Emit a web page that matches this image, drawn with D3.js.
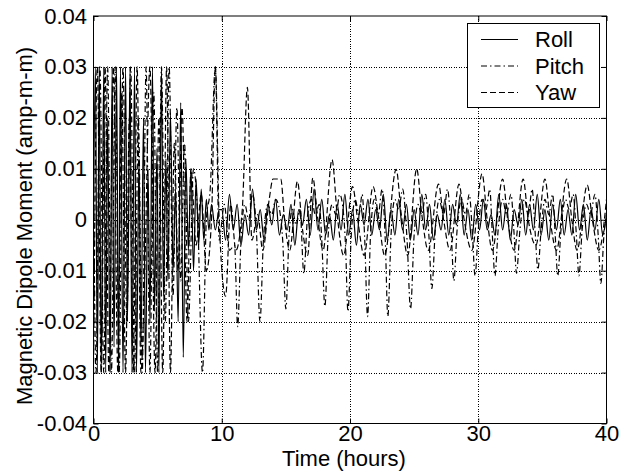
<!DOCTYPE html>
<html><head><meta charset="utf-8">
<script src="https://cdn.jsdelivr.net/npm/d3@7"></script>
<style>
html,body{margin:0;padding:0;background:#fff;}
text{font-family:"Liberation Sans",Arial,sans-serif;fill:#000;}
</style></head>
<body>
<svg id="chart" width="629" height="476"></svg>
<script>
// ---- data ----
const xTicks = [0, 10, 20, 30, 40];
const yTicks = [-0.04, -0.03, -0.02, -0.01, 0, 0.01, 0.02, 0.03, 0.04];
const yTickLabels = ["-0.04", "-0.03", "-0.02", "-0.01", "0", "0.01", "0.02", "0.03", "0.04"];
const seriesNames = ["Roll", "Pitch", "Yaw"];

const rollTime = [0,0.15,0.3,0.45,0.6,0.8,0.95,1.1,1.3,1.45,1.6,1.8,1.95,2.1,2.3,2.5,2.65,2.85,3.0,3.2,3.35,3.55,3.7,3.9,4.05,4.25,4.4,4.6,4.75,4.95,5.1,5.3,5.45,5.65,5.8,6.0,6.2,6.4,6.6,6.8,7.0,7.2,7.4,7.6,7.8,8.0,8.2,8.4,8.6,8.8,9.0,9.2,9.5,9.8,
10.0,10.3,10.6,10.9,11.2,11.5,11.8,12.1,12.4,12.7,13.0,13.3,13.6,13.9,14.2,14.5,14.8,15.1,15.4,15.7,16.0,16.3,16.6,16.9,17.2,17.5,17.8,18.1,18.4,18.7,19.0,19.3,19.6,19.9,20.2,20.5,20.8,21.1,21.4,21.7,22.0,22.3,22.6,22.9,23.2,23.5,23.8,24.1,24.4,24.7,25.0,25.3,25.6,25.9,26.2,26.5,26.8,27.1,27.4,27.7,28.0,28.3,28.6,28.9,29.2,29.5,29.8,30.1,30.4,30.7,31.0,31.3,31.6,31.9,32.2,32.5,32.8,33.1,33.4,33.7,34.0,34.3,34.6,34.9,35.2,35.5,35.8,36.1,36.4,36.7,37.0,37.3,37.6,37.9,38.2,38.5,38.8,39.1,39.4,39.7,40.0];
const rollValue = [0,0.03,-0.03,0.03,-0.03,0.03,-0.03,0.02,-0.03,0.03,-0.025,0.03,-0.03,0.03,-0.03,0.03,-0.02,0.03,-0.03,0.03,-0.03,0.012,-0.025,0.02,-0.03,0.01,-0.02,0.03,-0.018,0.014,-0.03,0.03,-0.015,0.012,-0.012,0.021,-0.01,0.006,-0.02,0.023,-0.027,0.012,-0.006,0.01,-0.01,0.008,-0.005,0.006,-0.004,0.004,-0.002,0.003,-0.002,0.002,
0.002,-0.004,0.005,-0.002,0.003,-0.005,0.001,-0.003,0.006,-0.002,0.002,-0.004,0.003,-0.001,0.004,-0.003,0.001,-0.002,0.003,-0.005,0.002,-0.001,0.004,-0.003,0.006,-0.002,0.004,-0.003,0.001,-0.004,0.003,-0.002,0.005,-0.003,0.002,-0.005,0.003,-0.001,0.004,-0.003,0.002,-0.002,0.005,-0.004,0.002,-0.003,0.004,-0.002,0.003,-0.004,0.002,-0.003,0.005,-0.002,0.003,-0.004,0.001,-0.002,0.004,-0.003,0.003,-0.001,0.005,-0.003,0.002,-0.004,0.003,-0.002,0.004,-0.002,0.001,-0.003,0.005,-0.002,0.003,-0.004,0.002,-0.001,0.004,-0.003,0.003,-0.002,0.005,-0.003,0.002,-0.004,0.003,-0.002,0.004,-0.003,0.002,-0.003,0.005,-0.002,0.003,-0.004,0.002,-0.002,0.004,-0.003,0.001];

const pitchTime = [0,0.2,0.5,0.8,1.1,1.4,1.7,2.0,2.3,2.6,2.9,3.2,3.5,3.8,4.1,4.4,4.7,5.0,5.3,5.6,5.9,6.2,6.5,6.8,7.1,7.4,7.8,8.1,8.5,8.8,9.1,9.5,9.8,10.2,10.6,
11.0,11.24,11.5,11.8,12.1,12.4,12.7,
12.98,13.25,13.6,13.9,14.2,14.5,14.75,
15.0,15.25,15.5,15.8,16.1,16.4,16.7,17.0,17.3,17.6,17.8,
18.04,18.3,18.6,18.9,19.2,19.5,19.65,
19.84,20.1,20.4,20.7,20.95,21.15,
21.37,21.6,21.9,22.2,22.5,22.75,
22.95,23.2,23.5,23.8,24.1,24.45,
24.72,25.0,25.3,25.6,25.9,26.15,
26.38,26.65,26.95,27.3,27.6,27.9,
28.1,28.35,28.7,29.0,29.3,29.55,
29.75,30.0,30.3,30.6,30.9,31.1,
31.3,31.55,31.9,32.2,32.55,32.8,
32.98,33.25,33.6,33.9,34.2,34.45,
34.65,34.9,35.2,35.5,35.8,36.0,
36.2,36.45,36.8,37.1,37.4,37.65,
37.85,38.1,38.45,38.75,39.1,39.35,
39.56,39.8,40.0];
const pitchValue = [0.01,-0.03,0.03,-0.03,0.03,-0.03,0.03,-0.03,0.03,-0.02,0.03,-0.03,0.02,-0.03,0.03,-0.03,0.025,-0.03,0.03,-0.02,0.03,-0.015,0.022,-0.012,0.015,-0.02,0.01,0.002,-0.03,0.0,0.006,0.03,-0.004,0.003,-0.006,
-0.005,-0.021,-0.004,0.003,0.0,0.005,-0.002,
-0.020,-0.004,0.003,0.001,0.004,0.002,-0.004,
-0.0175,-0.003,0.002,-0.001,0.002,-0.0105,0.001,0.004,0.001,0.003,-0.004,
-0.017,-0.003,0.003,0.001,0.005,0.001,-0.005,
-0.018,-0.003,0.004,0.001,0.005,-0.004,
-0.019,-0.003,0.004,0.001,0.006,-0.004,
-0.019,-0.003,0.004,0.002,0.006,-0.004,
-0.0175,-0.003,0.003,0.001,0.005,-0.003,
-0.0135,-0.002,0.004,0.001,0.006,-0.003,
-0.012,-0.002,0.004,0.001,0.005,-0.003,
-0.011,-0.002,0.004,0.002,0.006,-0.003,
-0.011,-0.002,0.004,0.001,0.005,-0.003,
-0.0105,-0.002,0.004,0.001,0.006,-0.003,
-0.0098,-0.002,0.004,0.001,0.005,-0.003,
-0.011,-0.002,0.004,0.002,0.005,-0.003,
-0.011,-0.002,0.003,0.001,0.005,-0.003,
-0.0125,-0.003,0.001];

const yawTime = [0,0.3,0.6,0.9,1.2,1.55,1.9,2.2,2.5,2.8,3.1,3.4,3.7,4.0,4.4,4.8,5.1,5.4,5.7,6.0,6.3,6.6,6.9,7.3,7.6,8.0,8.4,8.8,9.2,9.5,9.8,10.3,10.7,
11.1,11.6,12.0,12.35,12.8,13.2,13.7,14.0,14.6,14.9,15.3,15.9,16.3,16.7,17.1,17.5,17.9,18.6,19.0,19.5,20.2,20.6,21.1,21.8,22.2,22.7,23.6,24.0,24.5,25.2,25.6,26.1,26.9,27.3,27.8,28.5,28.9,29.5,30.3,30.7,31.1,31.9,32.3,32.8,33.5,33.9,34.5,35.2,35.6,36.1,36.9,37.3,37.7,38.5,38.9,39.4,40.0];
const yawValue = [-0.03,0.03,-0.03,0.03,-0.03,0.03,-0.03,0.025,-0.03,0.02,-0.03,0.03,-0.03,-0.01,0.03,-0.03,0.02,-0.03,0.03,-0.03,0.015,-0.01,0.022,-0.02,0.01,-0.005,0.005,-0.01,0.0,0.03,0.0,-0.015,0.003,
-0.006,0.002,0.026,-0.004,0.001,-0.006,0.004,0.008,0.008,0.0,-0.006,0.0075,-0.002,-0.007,0.0082,0.0,-0.006,0.0118,0.001,-0.007,0.0065,0.0,-0.007,0.0065,0.001,-0.007,0.0099,0.001,-0.007,0.010,0.001,-0.006,0.007,0.0,-0.006,0.007,0.0,-0.006,0.009,0.0,-0.006,0.008,0.0,-0.006,0.008,0.0,-0.005,0.008,0.0,-0.006,0.008,0.0,-0.006,0.0068,0.0,-0.006,0.004];

// ---- layout ----
const svg = d3.select("#chart");
const L = 93.5, R = 606.5, T = 16, B = 423.5;
const x = d3.scaleLinear().domain([0, 40]).range([L, R]);
const y = d3.scaleLinear().domain([-0.04, 0.04]).range([B, T]);
const FS = 22;

svg.append("defs").append("clipPath").attr("id", "clip")
  .append("rect").attr("x", L).attr("y", T).attr("width", R - L).attr("height", B - T);

svg.append("rect").attr("x", L).attr("y", T).attr("width", R - L).attr("height", B - T).attr("fill", "#fff");

// grid
const grid = svg.append("g").attr("stroke", "#000").attr("stroke-width", 1)
  .attr("stroke-dasharray", "1,1.5").attr("shape-rendering", "crispEdges");
xTicks.slice(1, -1).forEach(t => grid.append("line").attr("x1", Math.round(x(t)) + 0.5).attr("x2", Math.round(x(t)) + 0.5).attr("y1", T).attr("y2", B));
yTicks.slice(1, -1).forEach(t => grid.append("line").attr("y1", Math.round(y(t)) + 0.5).attr("y2", Math.round(y(t)) + 0.5).attr("x1", L).attr("x2", R));

// lines
const series = [
  {name: "Roll", t: rollTime, v: rollValue, dash: null},
  {name: "Pitch", t: pitchTime, v: pitchValue, dash: "6,3,1.5,3"},
  {name: "Yaw", t: yawTime, v: yawValue, dash: "6,3"}
];
const line = d3.line().x(d => x(d[0])).y(d => y(d[1])).curve(d3.curveMonotoneX);
const plot = svg.append("g").attr("clip-path", "url(#clip)");
series.forEach(s => {
  const pts = s.t.map((t, i) => [t, s.v[i]]);
  plot.append("path").datum(pts).attr("d", line)
    .attr("fill", "none").attr("stroke", "#000").attr("stroke-width", 1.2)
    .attr("stroke-dasharray", s.dash);
});

// axes (MATLAB style: inward ticks on all sides)
const xAxisB = d3.axisBottom(x).tickValues(xTicks).tickSize(-5).tickPadding(2).tickFormat(d3.format("d"));
const xAxisT = d3.axisTop(x).tickValues(xTicks).tickSize(-5).tickFormat("");
const yAxisL = d3.axisLeft(y).tickValues(yTicks).tickSize(-5).tickPadding(6.5).tickFormat((d, i) => yTickLabels[i]);
const yAxisR = d3.axisRight(y).tickValues(yTicks).tickSize(-5).tickFormat("");

function style(g) {
  g.select(".domain").remove();
  g.selectAll("line").attr("stroke", "#000");
  g.selectAll("text").attr("font-size", FS).attr("font-family", "Liberation Sans, Arial, sans-serif").attr("fill", "#000");
}
svg.append("g").attr("transform", `translate(0,${B})`).call(xAxisB).call(style);
svg.append("g").attr("transform", `translate(0,${T})`).call(xAxisT).call(style);
svg.append("g").attr("transform", `translate(${L},0)`).call(yAxisL).call(style);
svg.append("g").attr("transform", `translate(${R},0)`).call(yAxisR).call(style);

// box
svg.append("rect").attr("x", L).attr("y", T).attr("width", R - L).attr("height", B - T)
  .attr("fill", "none").attr("stroke", "#000").attr("stroke-width", 1);

// axis titles
svg.append("text").attr("x", 344).attr("y", 466).attr("text-anchor", "middle")
  .attr("font-size", FS).text("Time (hours)");
svg.append("text").attr("transform", `translate(32,226) rotate(-90)`).attr("text-anchor", "middle")
  .attr("font-size", FS).text("Magnetic Dipole Moment (amp-m-m)");

// legend
const lg = svg.append("g");
lg.append("rect").attr("x", 467.5).attr("y", 23.5).attr("width", 132).attr("height", 84)
  .attr("fill", "#fff").attr("stroke", "#000").attr("stroke-width", 1);
const legendY = [39, 65.5, 92];
const legendBase = [47, 73.5, 100];
series.forEach((s, i) => {
  lg.append("line").attr("x1", 481).attr("x2", 518).attr("y1", legendY[i] + 0.5).attr("y2", legendY[i] + 0.5)
    .attr("stroke", "#000").attr("stroke-width", 1).attr("stroke-dasharray", s.dash);
  lg.append("text").attr("x", 535).attr("y", legendBase[i]).attr("font-size", FS).text(seriesNames[i]);
});
</script>
</body></html>
